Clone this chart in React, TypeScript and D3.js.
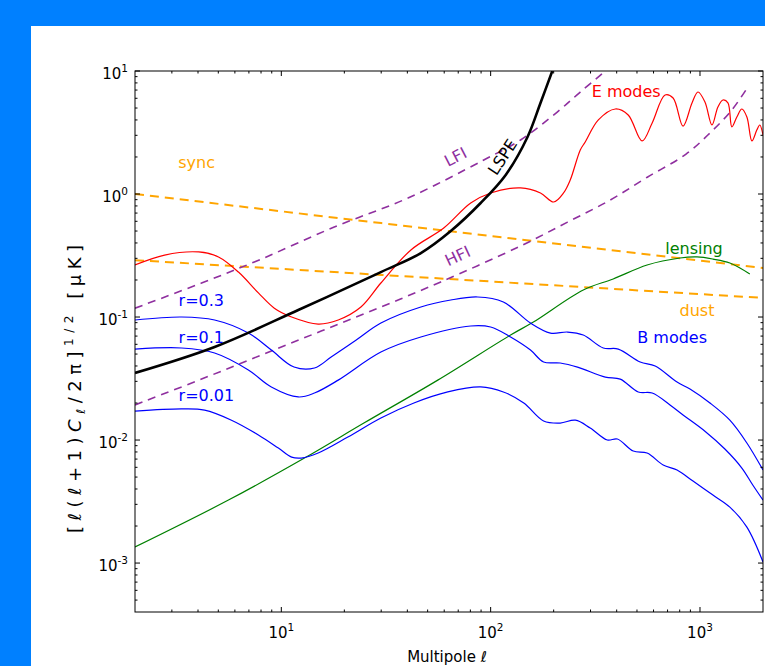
import React from "react";
import * as d3 from "d3";

type P = [number, number];

const X_DOMAIN: [number, number] = [2, 2000];
const Y_DOMAIN: [number, number] = [4e-4, 10];

const xMajor = [10, 100, 1000];
const xMajorExp = ["1", "2", "3"];
const yMajor = [1e-3, 1e-2, 1e-1, 1, 10];
const yMajorExp = ["-3", "-2", "-1", "0", "1"];

const eModes: P[] = [
  [2, 0.265], [2.77, 0.319], [4.03, 0.338], [5.01, 0.308], [6.24, 0.232], [7.77, 0.157],
  [9.26, 0.118], [11.2, 0.1], [15.0, 0.0877], [18.7, 0.0946], [24.0, 0.1206], [29.9, 0.189],
  [41.6, 0.351], [59.7, 0.529], [80.3, 0.845], [100, 1.02], [139, 1.12], [173, 1.02],
  [200, 0.861], [223, 1.02], [240, 1.3], [268, 2.28], [283, 2.65], [327, 4.0], [394, 4.91],
  [454, 4.39], [529, 2.7], [591, 3.78], [681, 6.38], [744, 6.03], [830, 3.57], [916, 5.5],
  [978, 6.75], [1056, 5.6], [1141, 3.64], [1218, 5.1], [1288, 5.81], [1360, 5.5], [1420, 3.51],
  [1500, 4.23], [1585, 4.91], [1675, 4.23], [1770, 2.7], [1868, 3.31], [1930, 3.64], [2000, 3.02],
];

const bR03: P[] = [
  [2, 0.0946], [3.34, 0.1], [4.8, 0.0946], [6.96, 0.0741], [8.96, 0.0539], [11.5, 0.0392],
  [14.4, 0.0385], [17.3, 0.0473], [22.8, 0.065], [29.9, 0.0893], [46.4, 0.1206], [64.5, 0.1375],
  [86.7, 0.1455], [115, 0.1324], [155, 0.0893], [193, 0.0741], [233, 0.0755], [277, 0.0714],
  [345, 0.056], [407, 0.0549], [518, 0.0431], [611, 0.04], [777, 0.0296], [896, 0.026],
  [1116, 0.02], [1389, 0.0145], [1675, 0.00946], [2000, 0.0057],
];

const bR01: P[] = [
  [2, 0.0549], [3.34, 0.056], [4.8, 0.051], [6.96, 0.0371], [8.96, 0.027], [12.05, 0.0224],
  [14.4, 0.0241], [18.7, 0.0307], [29.9, 0.0519], [46.4, 0.0688], [80.3, 0.0845], [100, 0.0829],
  [124.5, 0.0688], [155, 0.0539], [179, 0.0431], [215, 0.0423], [260, 0.0392], [353, 0.0325],
  [416, 0.0313], [507, 0.0246], [591, 0.0241], [719, 0.0193], [830, 0.016], [1056, 0.0118],
  [1315, 0.00845], [1585, 0.00592], [1787, 0.00431], [2000, 0.00325],
];

const bR001: P[] = [
  [2, 0.0172], [3.34, 0.0179], [4.3, 0.0175], [5.78, 0.0145], [7.77, 0.011], [9.68, 0.00861],
  [11.2, 0.00727], [12.45, 0.00714], [15.0, 0.00784], [20.8, 0.01057], [29.9, 0.0151],
  [43.0, 0.02], [62.4, 0.0246], [89.6, 0.027], [115, 0.0246], [144, 0.02], [179, 0.0143],
  [215, 0.01374], [254, 0.0145], [299, 0.01253], [361, 0.01], [403, 0.0102], [480, 0.00814],
  [559, 0.00784], [667, 0.00627], [777, 0.0057], [926, 0.00464], [1153, 0.00357],
  [1389, 0.00285], [1675, 0.00196], [2000, 0.00102],
];

const lensing: P[] = [
  [2, 0.00135], [5.59, 0.00325], [12.9, 0.00714], [24.8, 0.01374], [55.9, 0.0307],
  [124.5, 0.0714], [160, 0.091], [277, 0.166], [385, 0.204], [559, 0.265], [803, 0.302],
  [968, 0.308], [1153, 0.296], [1389, 0.275], [1730, 0.224],
];

const sync: P[] = [[2, 1.0], [30, 0.58], [2000, 0.25]];
const dust: P[] = [[2, 0.29], [30, 0.22], [2000, 0.143]];

const lfi: P[] = [
  [2, 0.118], [4.16, 0.189], [8.03, 0.296], [17.9, 0.539], [40.3, 0.928], [92.7, 1.89],
  [139, 2.75], [208, 4.64], [268, 6.74], [353, 10],
];

const hfi: P[] = [
  [2, 0.0193], [4.16, 0.0313], [8.03, 0.0491], [15.5, 0.0769], [29.9, 0.1205], [57.8, 0.193],
  [139, 0.378], [233, 0.591], [373, 0.894], [560, 1.37], [858, 2.11], [1128, 3.19],
  [1420, 4.82], [1693, 7.41],
];

const lspe: P[] = [
  [2, 0.0351], [4.8, 0.0571], [12.05, 0.114], [29.9, 0.232], [46.4, 0.331], [64.5, 0.5],
  [89.6, 0.845], [118, 1.43], [150, 2.91], [173, 5.5], [197, 10],
];

const W = 765;
const H = 666;
const L = 135, R = 763, T = 71, B = 612;
const FONT = "DejaVu Sans, Verdana, sans-serif";
const BLUE = "#0000ff", RED = "#ff0000", GREEN = "#008000", ORANGE = "#ffa500", PURPLE = "#8f2f9f";

export default function App() {
  const x = d3.scaleLog().domain(X_DOMAIN).range([L, R]);
  const y = d3.scaleLog().domain(Y_DOMAIN).range([B, T]);
  const smooth = d3.line<P>().x((d) => x(d[0])).y((d) => y(d[1])).curve(d3.curveCatmullRom.alpha(0.5));
  const straight = d3.line<P>().x((d) => x(d[0])).y((d) => y(d[1]));

  const xMinor: number[] = [];
  for (let k = 0; k <= 3; k++) for (let m = 2; m <= 9; m++) {
    const v = m * Math.pow(10, k);
    if (v > X_DOMAIN[0] && v < X_DOMAIN[1]) xMinor.push(v);
  }
  const yMinor: number[] = [];
  for (let k = -4; k <= 0; k++) for (let m = 2; m <= 9; m++) {
    const v = m * Math.pow(10, k);
    if (v > Y_DOMAIN[0] && v < Y_DOMAIN[1]) yMinor.push(v);
  }

  const lab = (l: number, v: number, rot = 0) => `translate(${x(l)},${y(v)}) rotate(${rot})`;

  return (
    <div style={{ position: "fixed", left: 0, top: 0, width: W, height: H }}>
      <svg width={W} height={H} style={{ display: "block" }} fontFamily={FONT}>
        <rect x={0} y={0} width={W} height={H} fill="#0080ff" />
        <rect x={31} y={26} width={W - 31} height={H - 26} fill="#ffffff" />
        <defs>
          <clipPath id="plotclip">
            <rect x={L} y={T} width={R - L} height={B - T} />
          </clipPath>
        </defs>
        <g clipPath="url(#plotclip)" fill="none">
          <path d={straight(sync) || ""} stroke={ORANGE} strokeWidth={2} strokeDasharray="9,6" />
          <path d={straight(dust) || ""} stroke={ORANGE} strokeWidth={2} strokeDasharray="9,6" />
          <path d={smooth(lfi) || ""} stroke={PURPLE} strokeWidth={1.6} strokeDasharray="8,6" />
          <path d={smooth(hfi) || ""} stroke={PURPLE} strokeWidth={1.6} strokeDasharray="8,6" />
          <path d={smooth(lensing) || ""} stroke={GREEN} strokeWidth={1.2} />
          <path d={smooth(bR03) || ""} stroke={BLUE} strokeWidth={1.2} />
          <path d={smooth(bR01) || ""} stroke={BLUE} strokeWidth={1.2} />
          <path d={smooth(bR001) || ""} stroke={BLUE} strokeWidth={1.2} />
          <path d={smooth(eModes) || ""} stroke={RED} strokeWidth={1.2} />
          <path d={smooth(lspe) || ""} stroke="#000" strokeWidth={2.6} />
        </g>

        {/* frame */}
        <rect x={L} y={T} width={R - L} height={B - T} fill="none" stroke="#000" strokeWidth={1} />

        {/* ticks */}
        <g stroke="#000" strokeWidth={1}>
          {xMajor.map((v) => (
            <g key={"xm" + v}>
              <line x1={x(v)} x2={x(v)} y1={B} y2={B - 5} />
              <line x1={x(v)} x2={x(v)} y1={T} y2={T + 5} />
            </g>
          ))}
          {xMinor.map((v) => (
            <g key={"xn" + v}>
              <line x1={x(v)} x2={x(v)} y1={B} y2={B - 2.5} />
              <line x1={x(v)} x2={x(v)} y1={T} y2={T + 2.5} />
            </g>
          ))}
          {yMajor.map((v) => (
            <g key={"ym" + v}>
              <line x1={L} x2={L + 5} y1={y(v)} y2={y(v)} />
              <line x1={R} x2={R - 5} y1={y(v)} y2={y(v)} />
            </g>
          ))}
          {yMinor.map((v) => (
            <g key={"yn" + v}>
              <line x1={L} x2={L + 2.5} y1={y(v)} y2={y(v)} />
              <line x1={R} x2={R - 2.5} y1={y(v)} y2={y(v)} />
            </g>
          ))}
        </g>

        {/* tick labels */}
        <g fill="#000" fontSize={15}>
          {xMajor.map((v, i) => (
            <text key={"xl" + v} x={x(v)} y={B + 26} textAnchor="middle">
              10<tspan fontSize={10.5} dy={-7}>{xMajorExp[i]}</tspan>
            </text>
          ))}
          {yMajor.map((v, i) => (
            <text key={"yl" + v} x={L - 7} y={y(v) + 8} textAnchor="end">
              10<tspan fontSize={10.5} dy={-7}>{yMajorExp[i]}</tspan>
            </text>
          ))}
        </g>

        {/* axis labels */}
        <text x={447} y={662} textAnchor="middle" fontSize={15} fill="#000">
          Multipole <tspan fontStyle="italic">ℓ</tspan>
        </text>
        <text transform="translate(81,389) rotate(-90)" textAnchor="middle" fontSize={18} fill="#000"
          textLength={288} lengthAdjust="spacing">
          [ℓ(ℓ+1)<tspan fontStyle="italic">C</tspan><tspan fontSize={12} dy={4}>ℓ</tspan>
          <tspan dy={-4}>/2π]</tspan><tspan fontSize={12} dy={-8}>1/2</tspan><tspan dy={8}>{" [μK]"}</tspan>
        </text>

        {/* annotations */}
        <g fontSize={16} dominantBaseline="central" textAnchor="middle">
          <text transform={lab(3.94, 1.82)} fill={ORANGE}>sync</text>
          <text transform={lab(444, 6.75)} fill={RED}>E modes</text>
          <text transform={lab(68, 2.0, -27)} fill={PURPLE}>LFI</text>
          <text transform={lab(114, 2.0, -57)} fill="#000">LSPE</text>
          <text transform={lab(69.6, 0.313, -25)} fill={PURPLE}>HFI</text>
          <text transform={lab(936, 0.364)} fill={GREEN}>lensing</text>
          <text transform={lab(968, 0.114)} fill={ORANGE}>dust</text>
          <text transform={lab(736, 0.0688)} fill={BLUE}>B modes</text>
        </g>
        <g fontSize={16} dominantBaseline="central" textAnchor="start" fill={BLUE}>
          <text transform={lab(3.23, 0.1375)}>r=0.3</text>
          <text transform={lab(3.23, 0.0688)}>r=0.1</text>
          <text transform={lab(3.23, 0.0232)}>r=0.01</text>
        </g>
      </svg>
    </div>
  );
}
